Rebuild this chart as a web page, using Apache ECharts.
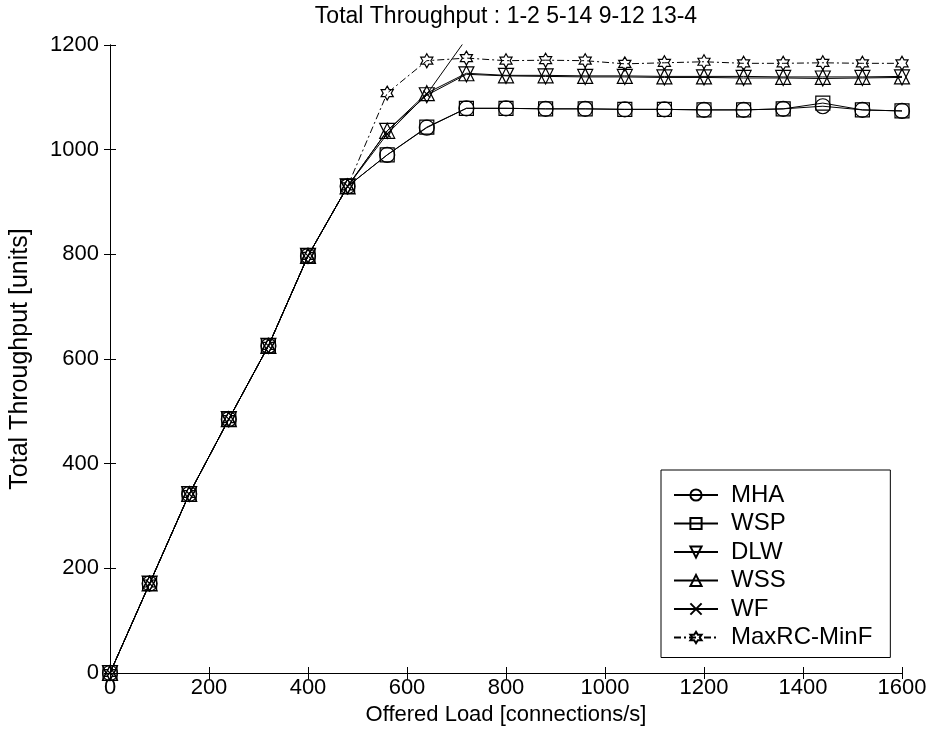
<!DOCTYPE html>
<html>
<head>
<meta charset="utf-8">
<script src="https://cdn.jsdelivr.net/npm/echarts@6/dist/echarts.min.js"></script>
<style>
html,body{margin:0;padding:0;background:#fff;}
#chart{width:935px;height:741px;}
</style>
</head>
<body>
<div id="chart"></div>
<script>
var offeredLoad = [0, 80, 160, 240, 320, 400, 480, 560, 640, 720, 800, 880, 960, 1040, 1120, 1200, 1280, 1360, 1440, 1520, 1600];
var mha   = [0, 171, 342, 485, 625, 797, 930, 990, 1042, 1079, 1079, 1078, 1078, 1077, 1077, 1076, 1076, 1078, 1083, 1076, 1074];
var wsp   = [0, 171, 342, 485, 625, 797, 930, 990, 1043, 1079, 1079, 1078, 1078, 1077, 1077, 1076, 1076, 1078, 1089, 1076, 1074];
var dlw   = [0, 171, 342, 485, 625, 797, 930, 1036, 1104, 1144, 1141, 1140, 1139, 1139, 1138, 1138, 1137, 1137, 1136, 1137, 1138];
var wss   = [0, 171, 342, 485, 625, 797, 930, 1036, 1108, 1146, 1142, 1142, 1141, 1141, 1140, 1140, 1140, 1139, 1139, 1139, 1140];
var wf    = [0, 171, 342, 485, 625, 797, 930, 1030, 1106, 1212, 1250, 1260, 1265, 1270, 1270, 1272, 1275, 1275, 1276, 1278, 1280];
var maxrc = [0, 171, 342, 485, 625, 797, 930, 1108, 1170, 1175, 1170, 1171, 1170, 1164, 1166, 1168, 1165, 1165, 1166, 1165, 1165];
var seriesNames = ['MHA', 'WSP', 'DLW', 'WSS', 'WF', 'MaxRC-MinF'];
var xTicks = [0, 200, 400, 600, 800, 1000, 1200, 1400, 1600];
var yTicks = [0, 200, 400, 600, 800, 1000, 1200];

var FONT = '"Liberation Sans", Arial, sans-serif';
var hexagram = 'path://M0,-10 L2.887,-5 L8.66,-5 L5.774,0 L8.66,5 L2.887,5 L0,10 L-2.887,5 L-8.66,5 L-5.774,0 L-8.66,-5 L-2.887,-5 Z';
var xmark = 'path://M-1,-1 L1,1 M-1,1 L1,-1';

function pairs(arr){ return offeredLoad.map(function(x,i){ return [x, arr[i]]; }); }

var defs = [
  {name: seriesNames[0], data: mha,   symbol: 'circle',   size: 15, line: 'solid'},
  {name: seriesNames[1], data: wsp,   symbol: 'rect',     size: 14, line: 'solid'},
  {name: seriesNames[2], data: dlw,   symbol: 'triangle', size: 15, line: 'solid', rotate: 180},
  {name: seriesNames[3], data: wss,   symbol: 'triangle', size: 15, line: 'solid'},
  {name: seriesNames[4], data: wf,    symbol: xmark,      size: 7,  line: 'solid'},
  {name: seriesNames[5], data: maxrc, symbol: hexagram,   size: 14, line: [7, 3, 2, 3]}
];

var series = defs.map(function(d){
  return {
    name: d.name,
    type: 'line',
    data: pairs(d.data),
    symbol: d.symbol,
    symbolSize: d.size,
    symbolRotate: d.rotate || 0,
    symbolKeepAspect: true,
    showAllSymbol: true,
    clip: true,
    lineStyle: {color: '#000', width: 1, type: d.line},
    itemStyle: {color: 'rgba(255,255,255,0)', borderColor: '#000', borderWidth: 1.2},
    emphasis: {disabled: true},
    animation: false
  };
});

var axisCommon = {
  axisLine: {show: true, lineStyle: {color: '#000', width: 1}},
  axisTick: {show: true, inside: true, length: 6, lineStyle: {color: '#000'}},
  splitLine: {show: false}
};

var chart = echarts.init(document.getElementById('chart'), null, {renderer: 'canvas'});
chart.setOption({
  backgroundColor: '#fff',
  animation: false,
  title: {
    text: 'Total Throughput : 1-2 5-14 9-12 13-4',
    left: 501, top: 0, textAlign: 'center',
    textStyle: {fontFamily: FONT, fontSize: 23, fontWeight: 'normal', color: '#000'}
  },
  grid: {left: 109, right: 33, top: 45, bottom: 68},
  legend: {
    data: seriesNames,
    orient: 'vertical',
    left: 661, top: 470,
    backgroundColor: '#fff',
    borderColor: '#000', borderWidth: 1,
    padding: [13, 18, 8, 12],
    itemWidth: 44, itemHeight: 14, itemGap: 4.5,
    textStyle: {fontFamily: FONT, fontSize: 24, color: '#000', lineHeight: 24, padding: [0,0,0,8]},
    selectedMode: false
  },
  xAxis: [
    Object.assign({
      type: 'value', min: 0, max: 1600, interval: 200, position: 'bottom',
      name: 'Offered Load [connections/s]', nameLocation: 'middle', nameGap: 27,
      nameTextStyle: {fontFamily: FONT, fontSize: 22, color: '#000'},
      axisLabel: {fontFamily: FONT, fontSize: 22, color: '#000', margin: 4,
        formatter: function(v){ return xTicks.indexOf(v) >= 0 ? String(v) : ''; }}
    }, axisCommon),
    Object.assign({
      type: 'value', min: 0, max: 1600, interval: 200, position: 'top',
      axisLabel: {show: false}
    }, axisCommon)
  ],
  yAxis: [
    Object.assign({
      type: 'value', min: 0, max: 1200, interval: 200, position: 'left',
      name: 'Total Throughput [units]', nameLocation: 'middle', nameGap: 77,
      nameTextStyle: {fontFamily: FONT, fontSize: 25, color: '#000'},
      axisLabel: {fontFamily: FONT, fontSize: 22, color: '#000', margin: 11,
        formatter: function(v){ return yTicks.indexOf(v) >= 0 ? String(v) : ''; }}
    }, axisCommon),
    Object.assign({
      type: 'value', min: 0, max: 1200, interval: 200, position: 'right',
      axisLabel: {show: false}
    }, axisCommon)
  ],
  series: series
});
</script>
</body>
</html>
